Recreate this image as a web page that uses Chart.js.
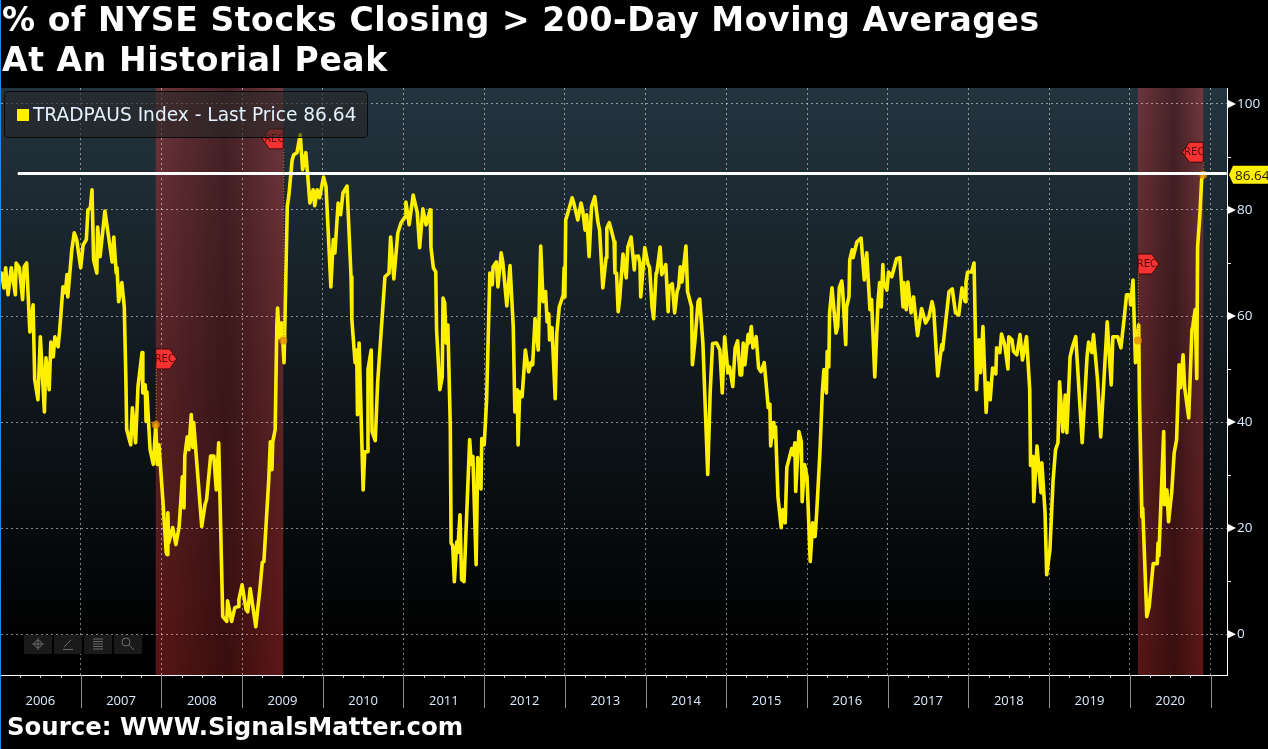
<!DOCTYPE html>
<html>
<head>
<meta charset="utf-8">
<title>% of NYSE Stocks Closing > 200-Day Moving Averages</title>
<script src="https://cdn.jsdelivr.net/npm/chart.js@4/dist/chart.umd.min.js"></script>
<style>
  html, body { margin: 0; padding: 0; background: #000; width: 1268px; height: 749px; overflow: hidden; }
  #wrap { position: relative; width: 1268px; height: 749px; }
  canvas { position: absolute; left: 0; top: 0; }
  #edge { position: absolute; left: 0; top: 0; width: 1px; height: 749px; background: #1e88e5; }
  #title { position: absolute; left: 2px; top: 0; color: #fff; font: bold 33px/40px "DejaVu Sans"; letter-spacing: 0.6px; white-space: nowrap; }
  #source { position: absolute; left: 7px; top: 711px; color: #fff; font: bold 24.4px/32px "DejaVu Sans"; white-space: nowrap; }
  #legend { position: absolute; left: 4px; top: 91px; width: 364px; height: 47px; box-sizing: border-box;
            border: 1px solid #0a0a0a; border-radius: 4px; background: rgba(38,38,38,0.62);
            color: #e4f1ff; font: 18.6px/46px "DejaVu Sans"; white-space: nowrap; }
  #legend i { position: absolute; left: 12px; top: 17px; width: 12px; height: 12px; background: #fff000; }
  #legend span { position: absolute; left: 28px; top: 0; }
</style>
</head>
<body>
<div id="wrap">
  <canvas id="chart" width="1268" height="749"></canvas>
  <div id="edge"></div>
  <div id="title">% of NYSE Stocks Closing &gt; 200-Day Moving Averages<br>At An Historial Peak</div>
  <div id="legend"><i></i><span>TRADPAUS Index - Last Price 86.64</span></div>
  <div id="source">Source: WWW.SignalsMatter.com</div>
</div>
<script>
const startYear = 2006;
const yearLabels = ["2006", "2007", "2008", "2009", "2010", "2011", "2012", "2013", "2014", "2015", "2016", "2017", "2018", "2019", "2020"];
const yearStarts = [2007, 2008, 2009, 2010, 2011, 2012, 2013, 2014, 2015, 2016, 2017, 2018, 2019, 2020, 2021];
const yTicks = [0, 20, 40, 60, 80, 100];
const lastPrice = 86.64;
const peakLevel = 86.88;
const peakLineStart = 2006.22;

// years since start of 2006, one entry for every entry in pctAbove200
const yearOffsets = [
  0.02, 0.05, 0.07, 0.10, 0.14, 0.19, 0.20, 0.24, 0.28, 0.30, 0.33, 0.37,
  0.41, 0.43, 0.47, 0.50, 0.55, 0.57, 0.61, 0.63, 0.66, 0.68, 0.72, 0.74,
  0.78, 0.81, 0.83, 0.84, 0.89, 0.92, 0.95, 1.00, 1.03, 1.07, 1.09, 1.12,
  1.14, 1.16, 1.20, 1.21, 1.24, 1.30, 1.39, 1.41, 1.44, 1.45, 1.47, 1.51,
  1.54, 1.56, 1.57, 1.62, 1.64, 1.68, 1.71, 1.76, 1.77, 1.80, 1.81, 1.82,
  1.86, 1.90, 1.93, 1.95, 1.97, 2.02, 2.06, 2.07, 2.08, 2.09, 2.14, 2.18,
  2.22, 2.26, 2.28, 2.29, 2.32, 2.34, 2.37, 2.39, 2.40, 2.50, 2.54, 2.56,
  2.61, 2.65, 2.68, 2.71, 2.76, 2.81, 2.82, 2.87, 2.91, 2.95, 2.96, 3.00,
  3.05, 3.07, 3.10, 3.17, 3.22, 3.25, 3.27, 3.33, 3.35, 3.37, 3.38, 3.41,
  3.43, 3.44, 3.46, 3.49, 3.52, 3.56, 3.58, 3.62, 3.64, 3.68, 3.72, 3.75,
  3.79, 3.84, 3.88, 3.90, 3.93, 3.96, 3.99, 4.01, 4.04, 4.10, 4.13, 4.15,
  4.19, 4.22, 4.25, 4.30, 4.35, 4.36, 4.40, 4.42, 4.43, 4.45, 4.50, 4.52,
  4.55, 4.56, 4.60, 4.61, 4.65, 4.68, 4.77, 4.82, 4.84, 4.88, 4.93, 4.97,
  5.02, 5.03, 5.07, 5.12, 5.17, 5.20, 5.24, 5.28, 5.33, 5.34, 5.37, 5.40,
  5.41, 5.45, 5.48, 5.49, 5.51, 5.53, 5.55, 5.58, 5.59, 5.61, 5.63, 5.66,
  5.67, 5.70, 5.72, 5.75, 5.82, 5.84, 5.86, 5.90, 5.92, 5.96, 5.97, 6.00,
  6.03, 6.07, 6.10, 6.11, 6.15, 6.17, 6.21, 6.23, 6.28, 6.32, 6.36, 6.38,
  6.41, 6.42, 6.44, 6.47, 6.51, 6.55, 6.58, 6.60, 6.63, 6.67, 6.70, 6.73,
  6.76, 6.78, 6.80, 6.81, 6.84, 6.88, 6.90, 6.93, 6.98, 6.99, 7.00, 7.01,
  7.04, 7.09, 7.11, 7.16, 7.20, 7.22, 7.25, 7.27, 7.30, 7.33, 7.37, 7.41,
  7.43, 7.47, 7.51, 7.52, 7.55, 7.58, 7.61, 7.62, 7.64, 7.66, 7.68, 7.72,
  7.76, 7.78, 7.82, 7.86, 7.87, 7.91, 7.93, 7.94, 7.99, 8.03, 8.05, 8.08,
  8.10, 8.13, 8.14, 8.18, 8.20, 8.25, 8.28, 8.29, 8.33, 8.36, 8.39, 8.41,
  8.43, 8.45, 8.50, 8.52, 8.57, 8.58, 8.61, 8.65, 8.67, 8.71, 8.77, 8.80,
  8.83, 8.88, 8.92, 8.95, 8.98, 9.02, 9.04, 9.08, 9.11, 9.14, 9.17, 9.19,
  9.21, 9.23, 9.27, 9.28, 9.31, 9.33, 9.37, 9.40, 9.43, 9.47, 9.52, 9.54,
  9.55, 9.58, 9.59, 9.61, 9.64, 9.68, 9.70, 9.73, 9.75, 9.81, 9.83, 9.85,
  9.86, 9.90, 9.93, 9.94, 9.97, 10.00, 10.04, 10.07, 10.10, 10.12, 10.16, 10.19,
  10.21, 10.24, 10.25, 10.27, 10.28, 10.31, 10.36, 10.38, 10.40, 10.43, 10.44, 10.48,
  10.49, 10.52, 10.53, 10.56, 10.57, 10.62, 10.67, 10.71, 10.74, 10.78, 10.80, 10.84,
  10.88, 10.90, 10.92, 10.94, 10.95, 10.99, 11.01, 11.05, 11.11, 11.15, 11.19, 11.20,
  11.23, 11.25, 11.29, 11.32, 11.37, 11.42, 11.47, 11.51, 11.55, 11.57, 11.62, 11.67,
  11.68, 11.76, 11.80, 11.84, 11.88, 11.92, 11.96, 11.97, 11.99, 12.04, 12.07, 12.10,
  12.13, 12.15, 12.18, 12.22, 12.24, 12.27, 12.30, 12.34, 12.35, 12.39, 12.41, 12.45,
  12.49, 12.50, 12.54, 12.56, 12.60, 12.64, 12.67, 12.72, 12.76, 12.77, 12.80, 12.81,
  12.85, 12.90, 12.91, 12.95, 12.97, 13.01, 13.05, 13.08, 13.11, 13.13, 13.17, 13.20,
  13.22, 13.26, 13.29, 13.33, 13.41, 13.47, 13.49, 13.53, 13.55, 13.60, 13.64, 13.72,
  13.77, 13.79, 13.85, 13.89, 13.93, 13.96, 14.00, 14.01, 14.04, 14.07, 14.11, 14.12,
  14.15, 14.16, 14.21, 14.24, 14.29, 14.34, 14.35, 14.36, 14.42, 14.43, 14.46, 14.48,
  14.52, 14.55, 14.58, 14.61, 14.63, 14.66, 14.68, 14.73, 14.77, 14.78, 14.81, 14.83,
  14.84, 14.87, 14.89, 14.91
];

const pctAbove200 = [
  68.1, 65.3, 69.1, 64.0, 69.1, 64.0, 70.0, 69.1, 63.1, 69.3, 70.0, 57.0,
  62.1, 48.0, 44.2, 56.1, 41.9, 52.1, 46.1, 55.1, 52.3, 56.1, 54.2, 57.4,
  65.5, 64.4, 67.8, 63.6, 72.5, 75.7, 74.4, 69.1, 73.4, 74.4, 80.0, 80.4,
  83.8, 70.6, 68.1, 76.8, 71.2, 79.8, 70.2, 74.9, 68.1, 69.1, 62.7, 66.3,
  61.7, 48.0, 38.6, 35.7, 42.7, 36.1, 46.7, 53.1, 45.5, 47.0, 40.1, 45.7,
  34.8, 32.0, 39.5, 32.0, 35.7, 24.8, 15.4, 15.0, 22.9, 17.2, 20.1, 16.9,
  20.3, 29.7, 23.8, 33.6, 37.2, 34.8, 41.4, 35.2, 39.9, 20.3, 24.4, 25.4,
  33.6, 33.6, 27.2, 36.1, 3.3, 2.4, 6.3, 2.4, 5.0, 5.2, 6.5, 9.3,
  4.6, 4.2, 8.6, 1.4, 8.4, 13.5, 13.7, 29.1, 36.3, 31.0, 36.3, 38.6,
  58.0, 61.5, 55.9, 58.7, 51.2, 80.6, 82.8, 89.4, 90.4, 90.8, 94.2, 87.6,
  90.8, 81.3, 83.8, 80.8, 83.8, 82.3, 84.7, 86.2, 84.4, 65.5, 74.4, 71.9,
  81.3, 79.1, 83.2, 84.5, 67.4, 59.3, 51.2, 53.6, 41.4, 54.9, 27.2, 34.4,
  34.4, 49.9, 53.6, 38.2, 36.5, 47.6, 67.4, 68.1, 74.9, 67.0, 75.7, 77.6,
  78.7, 81.5, 77.2, 82.8, 79.6, 72.9, 80.2, 77.2, 80.0, 73.0, 69.1, 68.3,
  57.4, 46.1, 48.5, 63.4, 62.5, 54.9, 58.3, 39.1, 17.2, 16.7, 9.9, 17.4,
  15.4, 22.5, 10.3, 9.9, 36.7, 32.0, 33.5, 13.1, 33.3, 27.4, 36.9, 35.7,
  44.2, 68.1, 65.9, 69.3, 70.2, 65.5, 71.9, 70.2, 61.9, 69.5, 58.0, 41.9,
  46.1, 35.7, 45.7, 44.8, 53.6, 49.5, 51.2, 50.8, 59.5, 53.6, 73.2, 62.7,
  64.6, 58.9, 60.4, 55.5, 57.8, 44.4, 56.8, 61.7, 64.0, 69.1, 63.6, 78.1,
  79.6, 82.3, 81.3, 78.1, 81.3, 80.0, 76.2, 79.1, 71.2, 80.6, 82.5, 77.6,
  76.2, 65.3, 71.0, 76.6, 77.6, 75.9, 74.0, 68.1, 68.1, 60.8, 63.4, 71.7,
  67.2, 73.0, 74.9, 68.7, 71.2, 71.3, 70.0, 63.6, 72.9, 69.8, 69.1, 61.7,
  59.5, 68.1, 68.3, 73.0, 67.8, 69.7, 60.8, 65.5, 66.1, 60.6, 64.6, 65.5,
  69.3, 66.4, 73.2, 64.6, 61.7, 50.8, 55.1, 62.7, 63.2, 54.9, 30.1, 45.5,
  54.8, 54.9, 53.6, 45.5, 56.1, 49.3, 50.4, 46.7, 54.0, 55.3, 48.9, 48.9,
  54.9, 50.8, 56.5, 54.9, 58.0, 54.0, 56.1, 50.2, 49.5, 51.2, 42.7, 43.4,
  35.5, 39.9, 37.2, 39.1, 25.9, 20.1, 23.5, 21.0, 31.4, 35.0, 33.8, 36.1,
  26.9, 38.2, 36.3, 25.0, 32.0, 29.7, 13.7, 21.0, 18.4, 22.9, 34.2, 45.7,
  49.9, 45.5, 53.3, 50.4, 60.6, 65.3, 56.8, 58.0, 65.3, 66.6, 65.3, 54.6,
  61.7, 63.6, 70.6, 72.5, 71.0, 74.0, 74.7, 66.8, 71.9, 61.2, 63.1, 48.5,
  62.7, 66.3, 61.7, 69.7, 66.4, 64.9, 68.3, 67.4, 70.8, 71.0, 61.7, 66.3,
  61.2, 66.4, 60.6, 63.6, 56.3, 61.4, 58.7, 59.8, 62.7, 61.2, 48.7, 54.6,
  53.6, 64.6, 65.1, 60.6, 60.2, 65.3, 62.7, 66.3, 68.3, 68.3, 70.0, 46.1,
  55.5, 49.3, 58.0, 41.8, 47.4, 44.2, 50.2, 49.1, 54.0, 53.1, 56.6, 54.6,
  50.0, 56.1, 55.5, 53.3, 52.7, 56.5, 51.7, 56.1, 46.1, 31.8, 33.5, 25.0,
  35.5, 26.7, 32.3, 22.9, 11.2, 15.9, 29.1, 34.8, 36.1, 47.6, 38.2, 45.1,
  38.0, 52.3, 54.2, 56.1, 36.1, 52.3, 55.1, 53.1, 56.5, 48.0, 37.2, 58.9,
  47.0, 56.1, 56.1, 54.0, 59.5, 64.0, 64.0, 62.1, 66.8, 51.2, 58.3, 44.2,
  22.1, 23.8, 3.3, 5.2, 13.3, 13.3, 17.2, 14.8, 38.2, 24.4, 27.2, 21.2,
  26.9, 34.2, 36.7, 50.8, 46.5, 52.7, 46.5, 40.8, 57.4, 58.0, 61.2, 48.2,
  73.0, 79.5, 85.7, 86.64
];

// recession shading and the REC flags on its edges
const recessionStarts = [2007.93, 2020.10];
const recessionEnds = [2009.51, 2020.91];
const recFlagYears = [2007.93, 2009.51, 2020.10, 2020.91];
const recFlagLevels = [51.9, 93.4, 69.8, 90.9];
const recFlagSides = [1, -1, 1, -1];
const recDotValues = [39.5, 55.4, 55.4, 86.64];

const AREA = { left: 1, right: 1227, top: 88, bottom: 675 };
const AXIS_FONT = "'Open Sans'";

// ----- Background and recession bands, under the grid -----
const backdropPlugin = {
  id: "backdrop",
  beforeDraw(chart) {
    const { ctx, chartArea: a, scales } = chart;
    ctx.save();
    ctx.fillStyle = "#000";
    ctx.fillRect(0, 0, chart.width, chart.height);

    const bg = ctx.createLinearGradient(0, a.top, 0, a.bottom);
    bg.addColorStop(0, "#24343f");
    bg.addColorStop(0.5, "#10181d");
    bg.addColorStop(0.95, "#000000");
    ctx.fillStyle = bg;
    ctx.fillRect(a.left, a.top, a.right - a.left, a.bottom - a.top);

    recessionStarts.forEach((start, i) => {
      const x0 = scales.x.getPixelForValue(start);
      const x1 = scales.x.getPixelForValue(recessionEnds[i]);
      const red = ctx.createLinearGradient(0, a.top, 0, a.bottom);
      red.addColorStop(0, "#70383f");
      red.addColorStop(0.5, "#5c2428");
      red.addColorStop(1, "#5c1616");
      ctx.fillStyle = red;
      ctx.fillRect(x0, a.top, x1 - x0, a.bottom - a.top);
      const shade = ctx.createLinearGradient(x0, 0, x1, 0);
      shade.addColorStop(0, "rgba(0,0,0,0.05)");
      shade.addColorStop(0.55, "rgba(0,0,0,0.38)");
      shade.addColorStop(1, "rgba(0,0,0,0)");
      ctx.fillStyle = shade;
      ctx.fillRect(x0, a.top, x1 - x0, a.bottom - a.top);
    });
    ctx.restore();
  }
};

function drawFlag(ctx, x, y, side, level) {
  ctx.save();
  ctx.beginPath();
  ctx.moveTo(x, y - 10);
  ctx.lineTo(x + side * 14, y - 10);
  ctx.lineTo(x + side * 21, y);
  ctx.lineTo(x + side * 14, y + 10);
  ctx.lineTo(x, y + 10);
  ctx.closePath();
  ctx.fillStyle = "#f53232";
  ctx.strokeStyle = "#3a0808";
  ctx.lineWidth = 1;
  ctx.fill();
  ctx.stroke();
  ctx.fillStyle = "#5a0a0a";
  ctx.font = "10px 'DejaVu Sans'";
  ctx.textAlign = "center";
  ctx.textBaseline = "middle";
  ctx.fillText("REC", x + side * 9, y + 0.5);
  ctx.setLineDash([1, 2]);
  ctx.strokeStyle = "#d8820a";
  ctx.beginPath();
  ctx.moveTo(x + 0.5, y + 10);
  ctx.lineTo(x + 0.5, level);
  ctx.stroke();
  ctx.restore();
}

function drawToolbar(ctx) {
  ctx.save();
  [24, 54, 84, 114].forEach((x, i) => {
    ctx.fillStyle = "#1a1a1a";
    ctx.fillRect(x, 635, 28, 19);
    ctx.strokeStyle = "#6a6a6a";
    ctx.lineWidth = 1;
    const cx = x + 14, cy = 644;
    ctx.beginPath();
    if (i === 0) {
      ctx.arc(cx, cy, 3.5, 0, Math.PI * 2);
      ctx.moveTo(cx - 6, cy); ctx.lineTo(cx + 6, cy);
      ctx.moveTo(cx, cy - 6); ctx.lineTo(cx, cy + 6);
    } else if (i === 1) {
      ctx.moveTo(cx - 4, cy + 3); ctx.lineTo(cx + 3, cy - 4);
      ctx.moveTo(cx - 5, cy + 5.5); ctx.lineTo(cx + 5, cy + 5.5);
    } else if (i === 2) {
      for (let k = -5; k <= 5; k += 2.5) { ctx.moveTo(cx - 5, cy + k); ctx.lineTo(cx + 5, cy + k); }
    } else {
      ctx.arc(cx - 2, cy - 2, 4, 0, Math.PI * 2);
      ctx.moveTo(cx + 1, cy + 1); ctx.lineTo(cx + 6, cy + 6);
    }
    ctx.stroke();
  });
  ctx.restore();
}

// ----- Flags, axis furniture and price tag, over the marks -----
const furniturePlugin = {
  id: "furniture",
  afterDraw(chart) {
    const { ctx, chartArea: a, scales } = chart;

    recFlagYears.forEach((year, i) => {
      drawFlag(ctx, scales.x.getPixelForValue(year), scales.y.getPixelForValue(recFlagLevels[i]),
        recFlagSides[i], scales.y.getPixelForValue(recDotValues[i]));
    });
    drawToolbar(ctx);

    ctx.save();
    // year separators and labels below the plot
    ctx.strokeStyle = "#8c8c8c";
    ctx.lineWidth = 1;
    yearStarts.forEach((year) => {
      const x = Math.round(scales.x.getPixelForValue(year)) + 0.5;
      ctx.beginPath();
      ctx.moveTo(x, a.bottom);
      ctx.lineTo(x, a.bottom + 33);
      ctx.stroke();
    });
    ctx.strokeStyle = "#cfcfcf";
    for (let y = 0; y < yearLabels.length + 1; y++) {
      for (let q = 1; q < 4; q++) {
        const x = Math.round(scales.x.getPixelForValue(startYear + y + q / 4)) + 0.5;
        if (x >= a.right) continue;
        ctx.beginPath();
        ctx.moveTo(x, a.bottom);
        ctx.lineTo(x, a.bottom + 3);
        ctx.stroke();
      }
    }
    ctx.fillStyle = "#dcecff";
    ctx.font = "13px " + AXIS_FONT;
    ctx.textAlign = "center";
    ctx.textBaseline = "middle";
    yearLabels.forEach((label, i) => {
      ctx.fillText(label, scales.x.getPixelForValue(startYear + i + 0.5), a.bottom + 26);
    });

    // right axis: arrows on labelled values, short ticks between
    ctx.fillStyle = "#fff";
    ctx.strokeStyle = "#fff";
    yTicks.forEach((value) => {
      const y = scales.y.getPixelForValue(value);
      ctx.beginPath();
      ctx.moveTo(a.right + 1, y - 4);
      ctx.lineTo(a.right + 9, y);
      ctx.lineTo(a.right + 1, y + 4);
      ctx.closePath();
      ctx.fill();
      if (value < 100) {
        const yMid = Math.round(scales.y.getPixelForValue(value + 10)) + 0.5;
        ctx.beginPath();
        ctx.moveTo(a.right, yMid);
        ctx.lineTo(a.right + 4, yMid);
        ctx.stroke();
      }
    });

    // last price tag
    const tagY = scales.y.getPixelForValue(lastPrice);
    ctx.fillStyle = "#fff000";
    ctx.beginPath();
    ctx.moveTo(a.right + 2, tagY);
    ctx.lineTo(a.right + 6, tagY - 9);
    ctx.lineTo(1268, tagY - 9);
    ctx.lineTo(1268, tagY + 9);
    ctx.lineTo(a.right + 6, tagY + 9);
    ctx.closePath();
    ctx.fill();
    ctx.fillStyle = "#1c1c00";
    ctx.font = "13.5px 'Open Sans'";
    ctx.textAlign = "left";
    ctx.fillText(lastPrice.toFixed(2), a.right + 8, tagY + 1);
    ctx.restore();
  }
};

// ----- Chart -----
new Chart(document.getElementById("chart"), {
  type: "line",
  data: {
    datasets: [
      {
        label: "Peak level",
        data: [{ x: peakLineStart, y: peakLevel }, { x: 2021.2, y: peakLevel }],
        borderColor: "#ffffff",
        borderWidth: 3,
        pointRadius: 0
      },
      {
        label: "Recession markers",
        data: recFlagYears.map((year, i) => ({ x: year, y: recDotValues[i] })),
        showLine: false,
        pointRadius: 4,
        pointBorderWidth: 0,
        pointBackgroundColor: "rgba(226,140,10,0.8)"
      },
      {
        label: "TRADPAUS Index",
        data: yearOffsets.map((offset, i) => ({ x: startYear + offset, y: pctAbove200[i] })),
        borderColor: "#fff000",
        borderWidth: 3.6,
        borderJoinStyle: "round",
        borderCapStyle: "round",
        pointRadius: 0,
        tension: 0
      }
    ]
  },
  options: {
    responsive: false,
    animation: false,
    devicePixelRatio: 1,
    parsing: false,
    layout: { autoPadding: false, padding: { left: AREA.left, top: AREA.top, right: 0, bottom: 749 - AREA.bottom } },
    plugins: { legend: { display: false }, title: { display: false }, tooltip: { enabled: false } },
    scales: {
      x: {
        type: "linear",
        min: startYear + AREA.left / 80.7,
        max: startYear + AREA.right / 80.7,
        afterFit(scale) { scale.height = 0; },
        afterBuildTicks(scale) { scale.ticks = yearStarts.map((value) => ({ value })); },
        ticks: { display: false },
        grid: { color: "rgba(255,255,255,0.5)", drawTicks: false, lineWidth: 1 },
        border: { display: true, color: "#ffffff", width: 1, dash: [2, 3] }
      },
      y: {
        position: "right",
        min: -7.7,
        max: 103,
        afterFit(scale) { scale.width = 1268 - AREA.right; },
        ticks: {
          stepSize: 10,
          includeBounds: false,
          autoSkip: false,
          padding: 10,
          color: "#dcecff",
          font: { family: "Open Sans", size: 13.5 },
          callback: (value) => (yTicks.includes(value) ? value : "")
        },
        grid: {
          color: (c) => (yTicks.includes(c.tick.value) ? "rgba(255,255,255,0.5)" : "rgba(0,0,0,0)"),
          drawTicks: false,
          lineWidth: 1
        },
        border: { display: true, color: "#ffffff", width: 1, dash: [2, 3] }
      }
    }
  },
  plugins: [backdropPlugin, furniturePlugin]
});
</script>
</body>
</html>
